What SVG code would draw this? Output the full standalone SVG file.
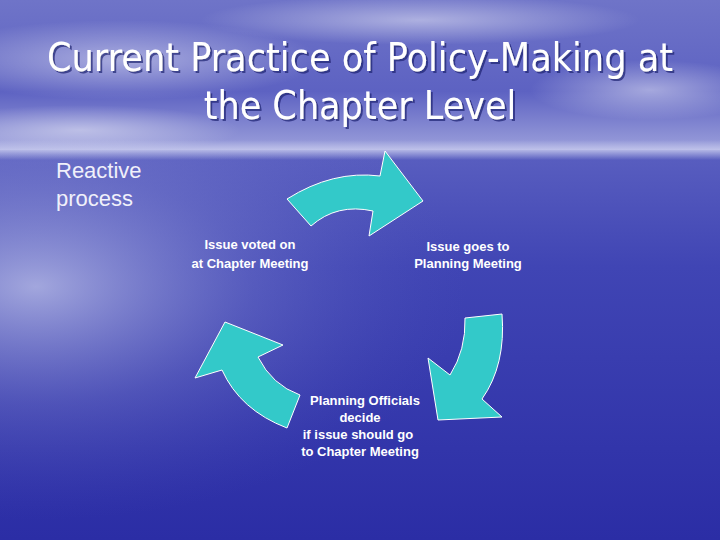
<svg xmlns="http://www.w3.org/2000/svg" width="720" height="540" viewBox="0 0 720 540">
<defs>
<linearGradient id="sky" x1="0" y1="0" x2="0" y2="1">
<stop offset="0" stop-color="#6f74c8"/>
<stop offset="0.6" stop-color="#5d62c2"/>
<stop offset="1" stop-color="#9ea2dc"/>
</linearGradient>
<linearGradient id="sea" x1="0" y1="0" x2="0" y2="1">
<stop offset="0" stop-color="#5a5fc0"/>
<stop offset="0.3" stop-color="#4045b4"/>
<stop offset="1" stop-color="#2b2da5"/>
</linearGradient>
<radialGradient id="glare" cx="0.05" cy="0.35" r="0.6">
<stop offset="0" stop-color="#d8dcf4" stop-opacity="0.65"/>
<stop offset="0.5" stop-color="#9da2dc" stop-opacity="0.25"/>
<stop offset="1" stop-color="#5a5fc0" stop-opacity="0"/>
</radialGradient>
<radialGradient id="cloud" cx="0.5" cy="0.5" r="0.5">
<stop offset="0" stop-color="#ffffff" stop-opacity="0.45"/>
<stop offset="1" stop-color="#ffffff" stop-opacity="0"/>
</radialGradient>
<linearGradient id="horizon" x1="0" y1="0" x2="0" y2="1">
<stop offset="0" stop-color="#c8cbee" stop-opacity="0"/>
<stop offset="0.5" stop-color="#c8cbee" stop-opacity="0.8"/>
<stop offset="1" stop-color="#c8cbee" stop-opacity="0"/>
</linearGradient>
<filter id="shadow" x="-5%" y="-20%" width="110%" height="150%">
<feOffset in="SourceAlpha" dx="2" dy="2" result="o"/>
<feFlood flood-color="#1e2070" flood-opacity="0.7"/>
<feComposite in2="o" operator="in" result="s"/>
<feMerge><feMergeNode in="s"/><feMergeNode in="SourceGraphic"/></feMerge>
</filter>
</defs>
<style>
.arrow{fill:#33c9c9;stroke:#ffffff;stroke-width:1;stroke-linejoin:miter}
.title{font-family:"DejaVu Sans Condensed","DejaVu Sans",sans-serif;font-size:39px;fill:#ffffff;text-anchor:middle}
.body{font-family:"Liberation Sans",Arial,sans-serif;font-size:22px;fill:#f0f0fa}
.lbl{font-family:"Liberation Sans",Arial,sans-serif;font-size:13px;font-weight:bold;fill:#ffffff;text-anchor:middle}
</style>
<rect x="0" y="0" width="720" height="152" fill="url(#sky)"/>
<rect x="0" y="150" width="720" height="390" fill="url(#sea)"/>
<rect x="0" y="150" width="720" height="390" fill="url(#glare)"/>
<ellipse cx="120" cy="60" rx="200" ry="40" fill="url(#cloud)"/>
<ellipse cx="420" cy="20" rx="220" ry="25" fill="url(#cloud)"/>
<ellipse cx="80" cy="130" rx="160" ry="25" fill="url(#cloud)"/>
<ellipse cx="650" cy="90" rx="120" ry="30" fill="url(#cloud)"/>
<rect x="0" y="140" width="720" height="20" fill="url(#horizon)"/>
<g id="title" filter="url(#shadow)">
<text class="title" x="360" y="71" textLength="626" lengthAdjust="spacingAndGlyphs">Current Practice of Policy-Making at</text>
<text class="title" x="360" y="119">the Chapter Level</text>
</g>
<g id="reactive">
<text class="body" x="56" y="178">Reactive</text>
<text class="body" x="56" y="206">process</text>
</g>
<g id="connectors">
<path class="arrow" d="M287,199 Q333,170 380,176 L385,151 L423,201 L369,236 L373,211 Q337,203 311,226 Z"/>
<path class="arrow" d="M465,318 L502,314 Q506,365 482,399 L502,417 L438,420 L428,358 L450,375 Q466,350 465,318 Z"/>
<path class="arrow" d="M287,428 Q240,410 222,370 L195,378 L225,322 L283,345 L258,357 Q272,385 300,395 Z"/>
</g>
<g id="node-voted">
<text class="lbl" x="250" y="249">Issue voted on</text>
<text class="lbl" x="250" y="268">at Chapter Meeting</text>
</g>
<g id="node-planning">
<text class="lbl" x="468" y="251">Issue goes to</text>
<text class="lbl" x="468" y="268">Planning Meeting</text>
</g>
<g id="node-officials">
<text class="lbl" x="365" y="405">Planning Officials</text>
<text class="lbl" x="360" y="422">decide</text>
<text class="lbl" x="358" y="439">if issue should go</text>
<text class="lbl" x="360" y="456">to Chapter Meeting</text>
</g>
</svg>
